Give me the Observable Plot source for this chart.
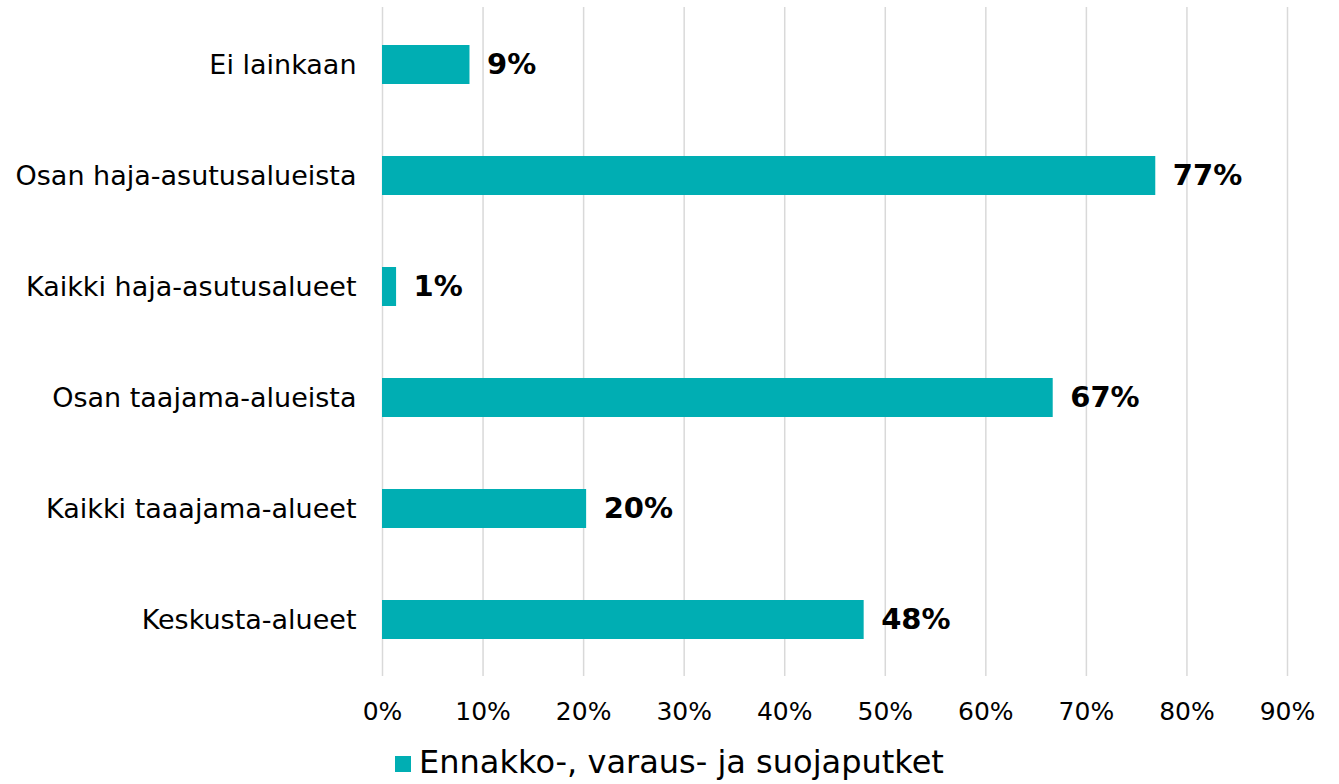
<!DOCTYPE html>
<html>
<head>
<meta charset="utf-8">
<script src="https://cdn.jsdelivr.net/npm/d3@7"></script>
<script src="https://cdn.jsdelivr.net/npm/@observablehq/plot@0.6"></script>
<style>
  html, body { margin: 0; padding: 0; background: #fff; overflow: hidden; }
  #legend { display: flex; justify-content: center; align-items: center; height: 40px; padding-top: 2px;
    font-family: "DejaVu Sans", sans-serif; font-size: 32px; line-height: 38px; color: #000; }
  #legend .sw { width: 16px; height: 16px; background: #00AEB3; margin-right: 8px; margin-top: 4px; }
</style>
</head>
<body>
<div id="chart"></div>
<div id="legend"><span class="sw"></span><span id="legend-text"></span></div>
<script>
const categories = ["Ei lainkaan", "Osan haja-asutusalueista", "Kaikki haja-asutusalueet", "Osan taajama-alueista", "Kaikki taaajama-alueet", "Keskusta-alueet"];
const values = [8.7, 76.9, 1.4, 66.7, 20.3, 47.9];
const valueLabels = ["9%", "77%", "1%", "67%", "20%", "48%"];
const xTicks = [0, 10, 20, 30, 40, 50, 60, 70, 80, 90];
const seriesName = "Ennakko-, varaus- ja suojaputket";

document.getElementById("legend-text").textContent = seriesName;

const data = categories.map((c, i) => ({category: c, value: values[i], label: valueLabels[i]}));

const chart = Plot.plot({
  width: 1339,
  height: 740,
  marginLeft: 382,
  marginRight: 52,
  marginTop: 7,
  marginBottom: 64,
  style: {fontFamily: "DejaVu Sans, sans-serif", fontSize: "25px", color: "#000", background: "#fff"},
  x: {domain: [0, 90], ticks: xTicks, tickFormat: d => d + "%", label: null, tickSize: 0, tickPadding: 26},
  y: {domain: categories, label: null, tickSize: 0, tickPadding: 26, paddingInner: 0.65, paddingOuter: 0.325},
  marks: [
    Plot.ruleX(xTicks, {stroke: "#d9d9d9", strokeWidth: 1.5}),
    Plot.barX(data, {y: "category", x: "value", fill: "#00AEB3"}),
    Plot.text(data, {y: "category", x: "value", text: "label", textAnchor: "start", dx: 17, fontWeight: "bold", fontSize: 29, fill: "#000"}),
    Plot.axisY({tickSize: 0, tickPadding: 26, fontSize: 27, label: null})
  ]
});
chart.style.display = "block";
document.getElementById("chart").appendChild(chart);
</script>
</body>
</html>
